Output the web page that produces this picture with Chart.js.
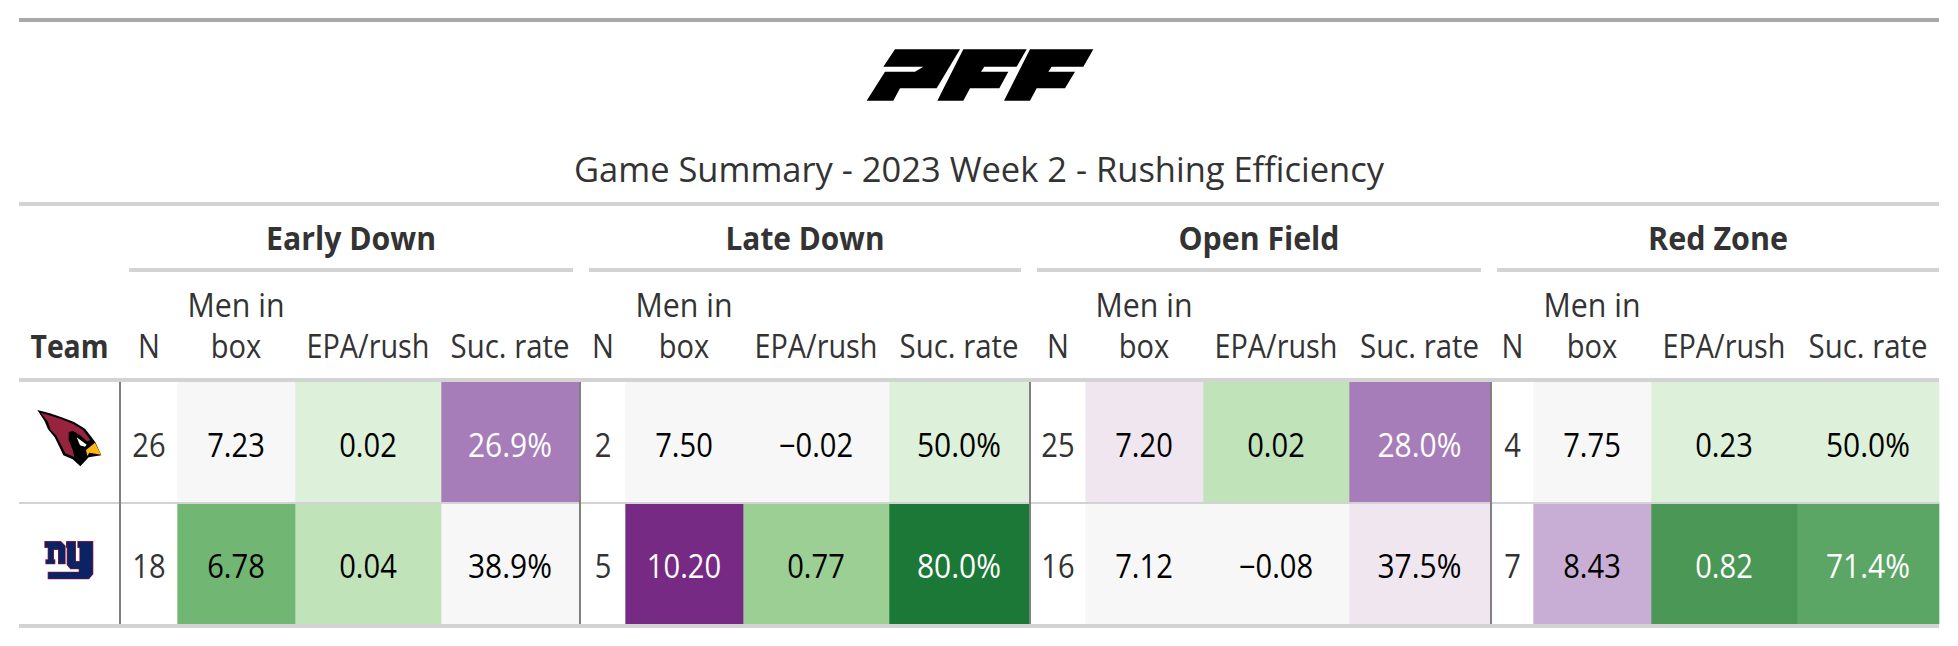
<!DOCTYPE html>
<html><head><meta charset="utf-8">
<style>html,body{margin:0;padding:0;background:#fff}canvas{display:block}</style>
<script src="https://cdn.jsdelivr.net/npm/chart.js@4"></script>
</head><body><canvas id="c" width="1958" height="646"></canvas>
<script>
const titleText='Game Summary - 2023 Week 2 - Rushing Efficiency';
const teams=['ARI','NYG'];
const groups=['Early Down','Late Down','Open Field','Red Zone'];
const nValues=[[26,18],[2,5],[25,16],[4,7]];
const boxValues=[[7.23,6.78],[7.50,10.20],[7.20,7.12],[7.75,8.43]];
const epaValues=[[0.02,0.04],[-0.02,0.77],[0.02,-0.08],[0.23,0.82]];
const sucValues=[[26.9,38.9],[50.0,80.0],[28.0,37.5],[50.0,71.4]];
const boxColors=[['#f7f7f7','#71b673'],['#f7f7f7','#762a83'],['#efe6f0','#f7f7f7'],['#f7f7f7','#c8aed4']];
const epaColors=[['#ddf0d9','#c1e3b9'],['#f7f7f7','#9bcf94'],['#c1e3b9','#f7f7f7'],['#ddf0d9','#4b9856']];
const sucColors=[['#a67db8','#f7f7f7'],['#ddf0d9','#1b7837'],['#a67db8','#efe6f0'],['#ddf0d9','#5ca665']];
const columnEdges=[[121,177,295,441,579],[581,625,743,889,1029],[1031,1085,1203,1349,1490],[1492,1533,1651,1797,1939]];
const spannerEdges=[[129,573],[589,1021],[1037,1481],[1497,1939]];
const dividers=[119,579,1029,1490];
const groupWidths=[170,159,161,140];

const FONT='"Open Sans"';
const fmtMinus=v=>v<0?'\u2212'+Math.abs(v).toFixed(2):v.toFixed(2);
const lum=h=>{const n=parseInt(h.slice(1),16);return (0.299*(n>>16)+0.587*((n>>8)&255)+0.114*(n&255));};
const ink=bg=>lum(bg)<150?'#ffffff':'#000000';

const datasets=[];
groups.forEach((g,i)=>{
  const e=columnEdges[i];
  [[nValues,null],[boxValues,boxColors],[epaValues,epaColors],[sucValues,sucColors]].forEach(([vals,cols],k)=>{
    datasets.push({label:g+' '+k,grouped:false,barPercentage:1,categoryPercentage:1,borderWidth:0,
      data:teams.map(()=>[e[k],e[k+1]]),
      backgroundColor:teams.map((t,r)=>cols?cols[i][r]:'#ffffff')});
  });
});

// draw centred text; fit = target width in px, or a plain horizontal factor below 2
function txt(ctx,s,x,y,size,weight,color,fit){
  ctx.save();ctx.font=`${weight} ${size}px ${FONT}`;ctx.fillStyle=color;ctx.textAlign='center';ctx.textBaseline='alphabetic';
  const sx=fit>2?fit/ctx.measureText(s).width:fit;
  ctx.translate(x,y);ctx.scale(sx,1);ctx.fillText(s,0,0);ctx.restore();
}
function poly(ctx,pts,fill){ctx.beginPath();pts.forEach((p,i)=>i?ctx.lineTo(p[0],p[1]):ctx.moveTo(p[0],p[1]));ctx.closePath();ctx.fillStyle=fill;ctx.fill();}
function pffLogo(ctx){
  ctx.save();ctx.translate(800,20);ctx.scale(1/3,1/3);
  poly(ctx,[[285,88],[480,88],[410,205],[300,205],[280,242],[200,242],[255,155],[345,155],[370,140],[250,140]],'#000');
  poly(ctx,[[490,88],[680,88],[650,140],[553,140],[543,155],[625,155],[598,205],[510,205],[490,242],[412,242]],'#000');
  poly(ctx,[[690,88],[880,88],[850,140],[755,140],[745,155],[825,155],[795,205],[710,205],[690,242],[612,242]],'#000');
  ctx.restore();
}
function cardinal(ctx){
  ctx.save();ctx.translate(30,400);ctx.scale(1/3,1/3);
  poly(ctx,[[22,30],[60,40],[95,52],[132,66],[165,86],[185,112],[196,127],[214,166],[176,172],[165,184],[151,199],[128,178],[100,166],[88,140],[74,112],[54,88],[44,64]],'#000');
  poly(ctx,[[32,38],[62,47],[95,58],[130,72],[160,91],[181,120],[172,124],[150,106],[130,93],[116,96],[116,120],[128,150],[133,171],[106,160],[92,132],[78,106],[62,90],[54,66]],'#97233f');
  poly(ctx,[[140,112],[170,134],[165,140],[150,136]],'#fff');
  poly(ctx,[[168,150],[195,128],[213,164],[178,158],[172,168]],'#ffb612');
  ctx.restore();
}
function giants(ctx){
  ctx.save();ctx.translate(20,520);ctx.scale(1/3,1/3);
  const n=[[75,65],[122,65],[135,78],[135,131],[116,131],[116,88],[100,88],[100,120],[104,120],[104,131],[78,131],[78,120],[85,120],[85,82],[75,82]];
  const y=[[140,65],[166,65],[166,125],[180,125],[180,82],[174,82],[174,65],[218,65],[218,162],[206,176],[85,176],[85,157],[178,157],[178,146],[152,146],[142,134],[142,82],[140,82]];
  [n,y].forEach(p=>{
    ctx.beginPath();p.forEach((q,i)=>i?ctx.lineTo(q[0],q[1]):ctx.moveTo(q[0],q[1]));ctx.closePath();
    ctx.lineWidth=4;ctx.strokeStyle='#a71930';ctx.lineJoin='miter';ctx.stroke();ctx.fillStyle='#0b2265';ctx.fill();
  });
  ctx.restore();
}

const tablePlugin={id:'table',
  beforeDraw(chart){const c=chart.ctx;c.save();c.fillStyle='#fff';c.fillRect(0,0,chart.width,chart.height);c.restore();},
  afterDraw(chart){
    const c=chart.ctx,X=chart.scales.x,Y=chart.scales.y;
    const px=v=>X.getPixelForValue(v);
    const rule=(a,b,y,h,col)=>{c.fillStyle=col;c.fillRect(px(a),y,px(b)-px(a),h);};
    rule(19,1939,18,4,'#a8a8a8');
    rule(19,1939,202,4,'#d3d3d3');
    rule(19,1939,378,4,'#d3d3d3');
    rule(19,1939,624,4,'#d3d3d3');
    rule(19,1939,502,2,'#d3d3d3');
    spannerEdges.forEach(s=>rule(s[0],s[1],268,4,'#d3d3d3'));
    dividers.forEach(d=>{c.fillStyle='#808080';c.fillRect(px(d),382,2,242);});
    const SZ=32, VS=0.91;
    pffLogo(c);
    txt(c,titleText,px(979),182,35,400,'#333333',810);
    txt(c,'Team',px(69.5),358,SZ,700,'#333333',78);
    groups.forEach((g,i)=>{
      const e=columnEdges[i],mid=k=>px((e[k]+e[k+1])/2);
      txt(c,g,px((spannerEdges[i][0]+spannerEdges[i][1])/2),250,SZ,700,'#333333',groupWidths[i]);
      txt(c,'N',mid(0),358,SZ,400,'#333333',VS);
      txt(c,'Men in',mid(1),317,SZ,400,'#333333',97);
      txt(c,'box',mid(1),358,SZ,400,'#333333',50.5);
      txt(c,'EPA/rush',mid(2),358,SZ,400,'#333333',123);
      txt(c,'Suc. rate',mid(3),358,SZ,400,'#333333',119);
      teams.forEach((t,r)=>{
        const y=Y.getPixelForValue(r)+14;
        txt(c,String(nValues[i][r]),mid(0),y,SZ,400,'#333333',VS);
        txt(c,boxValues[i][r].toFixed(2),mid(1),y,SZ,400,ink(boxColors[i][r]),VS);
        txt(c,fmtMinus(epaValues[i][r]),mid(2),y,SZ,400,ink(epaColors[i][r]),VS);
        txt(c,sucValues[i][r].toFixed(1)+'%',mid(3),y,SZ,400,ink(sucColors[i][r]),84);
      });
    });
    cardinal(c);giants(c);
  }
};
const canvas=document.getElementById('c');
canvas.getContext('2d',{alpha:false});
new Chart(canvas,{type:'bar',plugins:[tablePlugin],
  data:{labels:teams,datasets},
  options:{indexAxis:'y',responsive:false,animation:false,
    layout:{padding:{top:382,bottom:22,left:0,right:0}},
    plugins:{legend:{display:false},tooltip:{enabled:false},title:{display:false}},
    scales:{x:{type:'linear',min:0,max:1958,display:false},
            y:{type:'category',display:false,offset:true}}}});
</script></body></html>
